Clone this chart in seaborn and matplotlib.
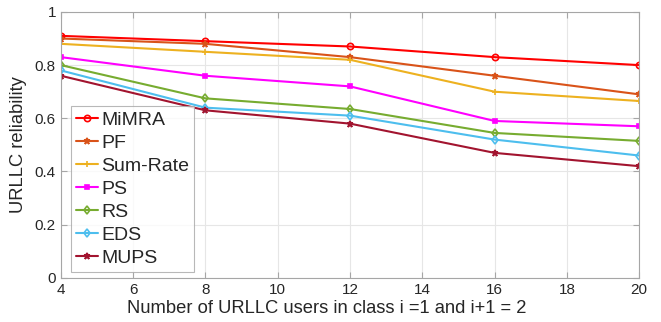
import numpy as np
import pandas as pd
import matplotlib
matplotlib.use("Agg")
import matplotlib.pyplot as plt
import seaborn as sns

users = [4, 8, 12, 16, 20]
mimra = [0.91, 0.89, 0.87, 0.83, 0.80]
pf = [0.90, 0.88, 0.83, 0.76, 0.69]
sum_rate = [0.88, 0.85, 0.82, 0.70, 0.665]
ps = [0.83, 0.76, 0.72, 0.59, 0.57]
rs = [0.80, 0.675, 0.635, 0.545, 0.515]
eds = [0.78, 0.64, 0.61, 0.52, 0.46]
mups = [0.76, 0.63, 0.58, 0.47, 0.42]

names = ["MiMRA", "PF", "Sum-Rate", "PS", "RS", "EDS", "MUPS"]
series = [mimra, pf, sum_rate, ps, rs, eds, mups]
colors = ["#FF0000", "#D95319", "#EDB120", "#FF00FF", "#77AC30", "#4DBEEE", "#A2142F"]
markers = ["o", "*", "+", "s", "d", "d", "*"]
filled = [False, True, True, True, False, False, True]

df = pd.DataFrame({"users": users * len(names),
                   "rel": sum(series, []),
                   "method": sum([[n] * len(users) for n in names], [])})

sns.set_style("whitegrid")
plt.rcParams["font.family"] = ["Liberation Sans", "DejaVu Sans"]

fig = plt.figure(figsize=(6.61, 3.22), dpi=100)
ax = fig.add_axes([0.092, 0.137, 0.875, 0.826])

for n, c, m, f in zip(names, colors, markers, filled):
    d = df[df["method"] == n]
    sns.lineplot(data=d, x="users", y="rel", ax=ax, color=c, marker=m, label=n,
                 markersize=4.5 if m != "s" else 3.2, linewidth=1.5,
                 markerfacecolor=c if f else "none", markeredgecolor=c, markeredgewidth=1.2)

ax.set_xlim(4, 20)
ax.set_ylim(0, 1)
ax.set_xticks(range(4, 21, 2))
ax.set_yticks(np.arange(0, 1.01, 0.2))
ax.set_yticklabels(["0", "0.2", "0.4", "0.6", "0.8", "1"])
ax.grid(True, color="#e6e6e6", linewidth=0.8)
for s in ax.spines.values():
    s.set_color("#a6a6a6")
    s.set_linewidth(0.8)
ax.tick_params(axis="both", labelsize=11, direction="in", length=4, color="#a6a6a6",
               top=True, right=True, bottom=True, left=True)
ax.set_xlabel("Number of URLLC users in class i =1 and i+1 = 2", fontsize=13.2)
ax.xaxis.set_label_coords(0.46, -0.085)
ax.set_ylabel("URLLC reliability", fontsize=13.2)
ax.yaxis.set_label_coords(-0.058, 0.5)

leg = ax.legend(loc="lower left", bbox_to_anchor=(0.018, 0.022), fontsize=14,
                frameon=True, fancybox=False, handlelength=1.15, handletextpad=0.15,
                borderpad=0.25, borderaxespad=0, labelspacing=0.28)
leg.get_frame().set_edgecolor("#a6a6a6")
leg.get_frame().set_linewidth(0.8)

fig.savefig("out.png", dpi=100)
